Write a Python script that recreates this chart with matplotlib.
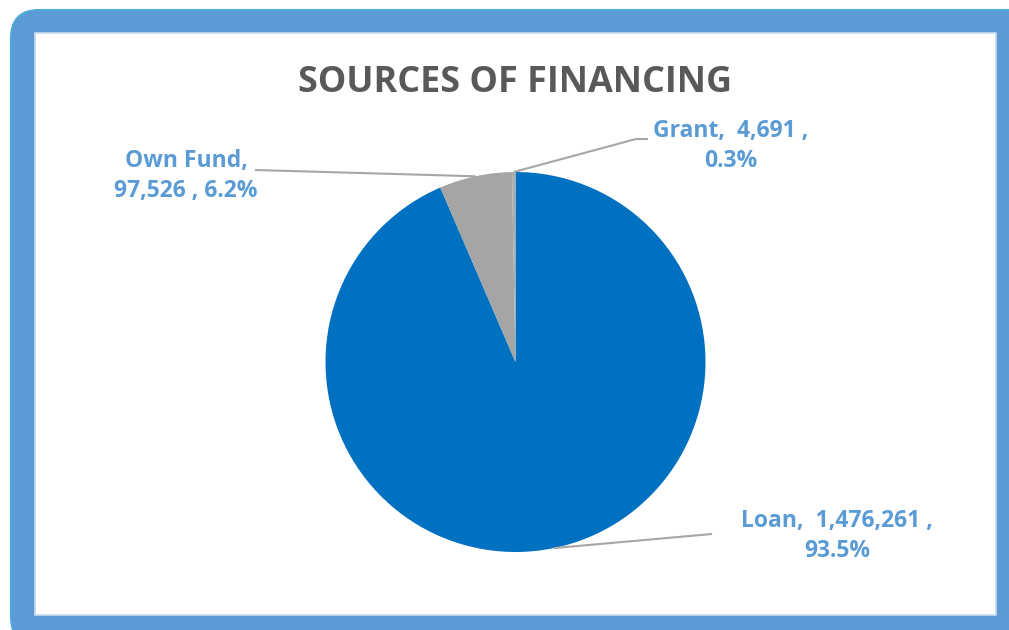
import numpy as np
import matplotlib
matplotlib.use("Agg")
import matplotlib.pyplot as plt
from matplotlib.patches import FancyBboxPatch, Rectangle

# Financing sources (amounts)
categories = ["Loan", "Own Fund", "Grant"]
amounts = [1476261, 97526, 4691]
colors = ["#0070C0", "#A5A5A5", "#ADADAD"]
title = "SOURCES OF FINANCING"

W, H = 1009, 630
fig = plt.figure(figsize=(W / 100, H / 100), dpi=100)
ax = fig.add_axes([0, 0, 1, 1])
ax.set_xlim(0, W)
ax.set_ylim(0, H)
ax.set_aspect("equal")
ax.axis("off")


def Y(y):
    # convert top-down pixel row to axes y
    return H - y


# Blue rounded frame and white plot area
ax.add_patch(FancyBboxPatch((11, Y(645)), 1030, 635,
                            boxstyle="round,pad=0,rounding_size=28",
                            facecolor="#5B9BD5", edgecolor="#4FA9D9", lw=1.5, zorder=0))
ax.add_patch(Rectangle((35, Y(615)), 961, 582, facecolor="white",
                       edgecolor="#C9D9EE", lw=1.2, zorder=1))

# Pie
cx, cy, r = 515.5, Y(362), 190
total = sum(amounts)
wedges, _ = ax.pie(amounts, colors=colors, startangle=90, counterclock=False,
                   center=(cx, cy), radius=r, frame=True,
                   wedgeprops=dict(linewidth=0, zorder=2))
ax.set_xlim(0, W)
ax.set_ylim(0, H)
ax.axis("off")

ax.text(W / 2 + 10, Y(83), title, ha="center", va="center", fontsize=25.8,
        fontweight="bold", color="#595959", family="Open Sans", zorder=5)

label_color = "#5B9BD5"
label_specs = {
    "Loan": dict(pos=(837, Y(536)), elbow=(712, Y(534))),
    "Own Fund": dict(pos=(186, Y(176)), elbow=(255, Y(170))),
    "Grant": dict(pos=(731, Y(146)), elbow=(636, Y(139)), stub=(648, Y(139))),
}

for w, name, amt in zip(wedges, categories, amounts):
    mid = np.deg2rad((w.theta1 + w.theta2) / 2)
    anchor = (cx + r * np.cos(mid), cy + r * np.sin(mid))
    spec = label_specs[name]
    pct = amt / total * 100
    if name == "Own Fund":
        txt = f"{name},\n{amt:,} , {pct:.1f}%"
    else:
        txt = f"{name},  {amt:,} ,\n{pct:.1f}%"
    xs = [anchor[0], spec["elbow"][0]]
    ys = [anchor[1], spec["elbow"][1]]
    if "stub" in spec:
        xs.append(spec["stub"][0])
        ys.append(spec["stub"][1])
    ax.plot(xs, ys, color="#A6A6A6", lw=1.5, zorder=3, solid_capstyle="butt")
    ax.text(spec["pos"][0], spec["pos"][1], txt, ha="center", va="center",
            fontsize=16.5, fontweight="bold", color=label_color, family="Open Sans",
            linespacing=1.35, zorder=5)

fig.savefig("out.png", dpi=100)
